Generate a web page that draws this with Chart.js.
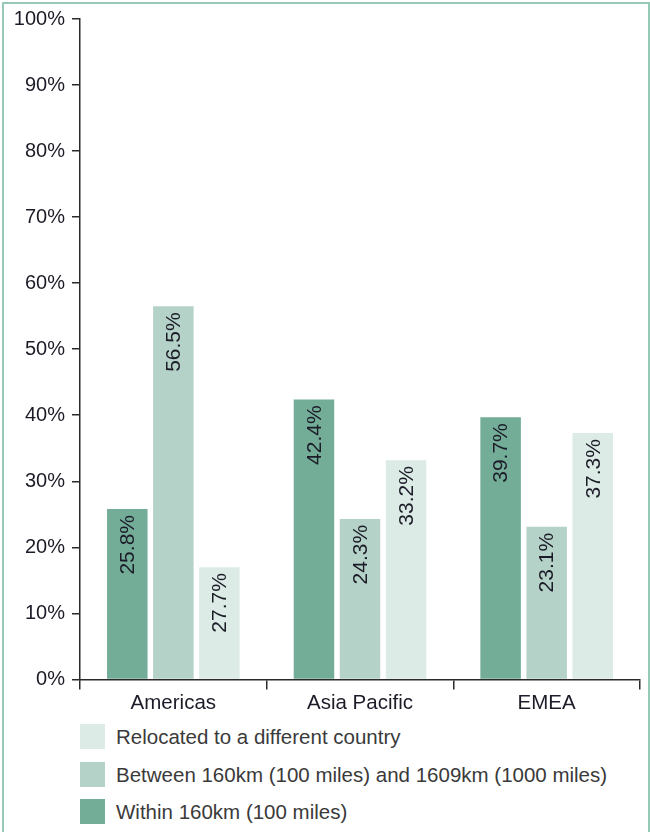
<!DOCTYPE html>
<html>
<head>
<meta charset="utf-8">
<script src="https://cdn.jsdelivr.net/npm/chart.js@4"></script>
<style>
  body { margin: 0; background: #fff; font-family: "Liberation Sans", Arial, sans-serif; }
  #frame { position: absolute; left: 2px; top: 2px; width: 644px; height: 900px; border: 2px solid #95cab7; }
  #wrap { position: absolute; left: 0; top: 0; width: 650px; height: 718px; }
  #legend { position: absolute; left: 80px; top: 724px; }
  .item { height: 37.5px; display: flex; align-items: flex-start; }
  .box { width: 25px; height: 25px; margin-right: 11px; flex: none; }
  .txt { font-size: 20.5px; color: #3a3a3a; line-height: 25px; }
</style>
</head>
<body>
<div id="frame"></div>
<div id="wrap"><canvas id="chart"></canvas></div>
<div id="legend"></div>
<script>
// categories and series
const categories = ['Americas', 'Asia Pacific', 'EMEA'];
const within    = [25.8, 42.4, 39.7];
const between   = [56.5, 24.3, 23.1];
const relocated = [17.0, 33.2, 37.3];

// printed labels on the bars
const withinText    = ['25.8%', '42.4%', '39.7%'];
const betweenText   = ['56.5%', '24.3%', '23.1%'];
const relocatedText = ['27.7%', '33.2%', '37.3%'];

const yTicks = [0, 10, 20, 30, 40, 50, 60, 70, 80, 90, 100];

const FONT = '"Liberation Sans", Arial, sans-serif';

// rotated value labels inside the top of each bar (reading bottom to top)
const barText = {
  id: 'barText',
  afterDatasetsDraw(chart) {
    const ctx = chart.ctx;
    chart.data.datasets.forEach((ds, i) => {
      const meta = chart.getDatasetMeta(i);
      meta.data.forEach((bar, j) => {
        ctx.save();
        ctx.translate(bar.x, bar.y + 6);
        ctx.rotate(-Math.PI / 2);
        ctx.font = '21px ' + FONT;
        ctx.fillStyle = '#1c1c28';
        ctx.textAlign = 'right';
        ctx.textBaseline = 'middle';
        ctx.fillText(ds.texts[j], 0, 1);
        ctx.restore();
      });
    });
  }
};

const chart = new Chart(document.getElementById('chart'), {
  type: 'bar',
  data: {
    labels: categories,
    datasets: [
      { label: 'Within 160km (100 miles)', data: within, texts: withinText, backgroundColor: '#73ad98' },
      { label: 'Between 160km (100 miles) and 1609km (1000 miles)', data: between, texts: betweenText, backgroundColor: '#b5d2c8' },
      { label: 'Relocated to a different country', data: relocated, texts: relocatedText, backgroundColor: '#dcebe6' }
    ]
  },
  options: {
    responsive: true,
    maintainAspectRatio: false,
    animation: false,
    layout: { padding: { top: 14, right: 10, left: 0, bottom: 0 } },
    datasets: { bar: { categoryPercentage: 0.74, barPercentage: 0.88 } },
    plugins: { legend: { display: false }, tooltip: { enabled: false } },
    scales: {
      x: {
        grid: { display: true, drawOnChartArea: false, drawTicks: true, tickLength: 10, color: '#2a2a2a', lineWidth: 1.5, offset: true },
        border: { display: true, color: '#2a2a2a', width: 1.5 },
        ticks: { color: '#1c1c28', font: { family: FONT, size: 20.5 }, padding: 2 }
      },
      y: {
        min: 0,
        max: 100,
        afterFit: s => { s.width = 80; },
        afterBuildTicks: s => { s.ticks = yTicks.map(v => ({ value: v })); },
        grid: { display: true, drawOnChartArea: false, drawTicks: true, tickLength: 8, color: '#2a2a2a', lineWidth: 1.5 },
        border: { display: true, color: '#2a2a2a', width: 1.5 },
        ticks: { color: '#1c1c28', font: { family: FONT, size: 20 }, padding: 7, callback: v => v + '%' }
      }
    }
  },
  plugins: [barText]
});

// legend, listed in reverse dataset order
const legend = document.getElementById('legend');
chart.data.datasets.slice().reverse().forEach(ds => {
  const item = document.createElement('div');
  item.className = 'item';
  item.innerHTML = '<div class="box" style="background:' + ds.backgroundColor + '"></div><div class="txt">' + ds.label + '</div>';
  legend.appendChild(item);
});
</script>
</body>
</html>
